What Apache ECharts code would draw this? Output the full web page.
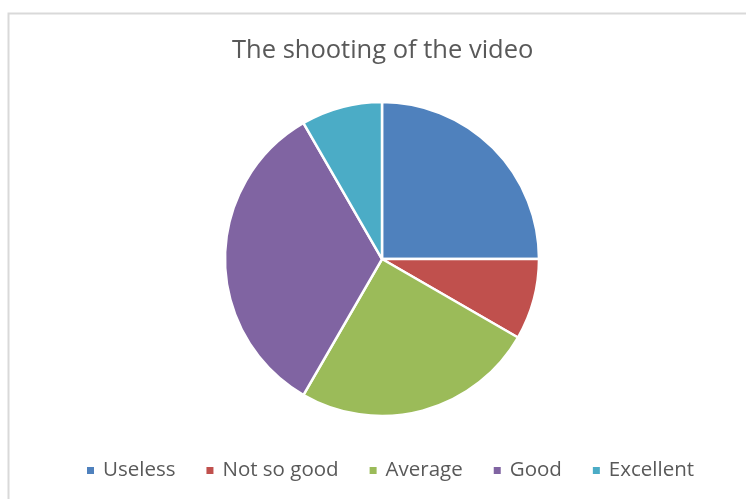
<!DOCTYPE html>
<html>
<head>
<meta charset="utf-8">
<script src="https://cdn.jsdelivr.net/npm/echarts@6/dist/echarts.min.js"></script>
<style>
  html, body { margin: 0; padding: 0; background: #fff; }
  #chart { width: 746px; height: 499px; }
</style>
</head>
<body>
<div id="chart"></div>
<script>
// Ratings for the shooting of the video
const categories = ['Useless', 'Not so good', 'Average', 'Good', 'Excellent'];
const counts = [3, 1, 3, 4, 1];
const colors = ['#4F81BD', '#C0504D', '#9BBB59', '#8064A2', '#4BACC6'];

const chart = echarts.init(document.getElementById('chart'), null, { renderer: 'canvas' });

const fontFamily = '"Open Sans", "Noto Sans", sans-serif';

chart.setOption({
  animation: false,
  color: colors,
  title: {
    text: 'The shooting of the video',
    left: 232,
    top: 38,
    padding: 0,
    textStyle: {
      fontFamily: fontFamily,
      fontSize: 25.5,
      fontWeight: 'normal',
      color: '#595959'
    }
  },
  legend: {
    top: 460,
    left: 85,
    padding: 0,
    itemWidth: 9,
    itemHeight: 9,
    itemGap: 29,
    icon: 'rect',
    textStyle: {
      fontFamily: fontFamily,
      fontSize: 20.5,
      color: '#595959',
      padding: [0, 0, 0, 3]
    },
    data: categories
  },
  graphic: [{
    type: 'rect',
    shape: { x: 8.5, y: 13.5, width: 900, height: 700 },
    style: { fill: 'none', stroke: '#d9d9d9', lineWidth: 2 },
    silent: true
  }],
  series: [{
    type: 'pie',
    center: [382, 259],
    radius: 157,
    startAngle: 90,
    clockwise: true,
    label: { show: false },
    labelLine: { show: false },
    emphasis: { disabled: true },
    itemStyle: { borderColor: '#ffffff', borderWidth: 2.5 },
    data: categories.map((name, i) => ({ name: name, value: counts[i] }))
  }]
});
</script>
</body>
</html>
